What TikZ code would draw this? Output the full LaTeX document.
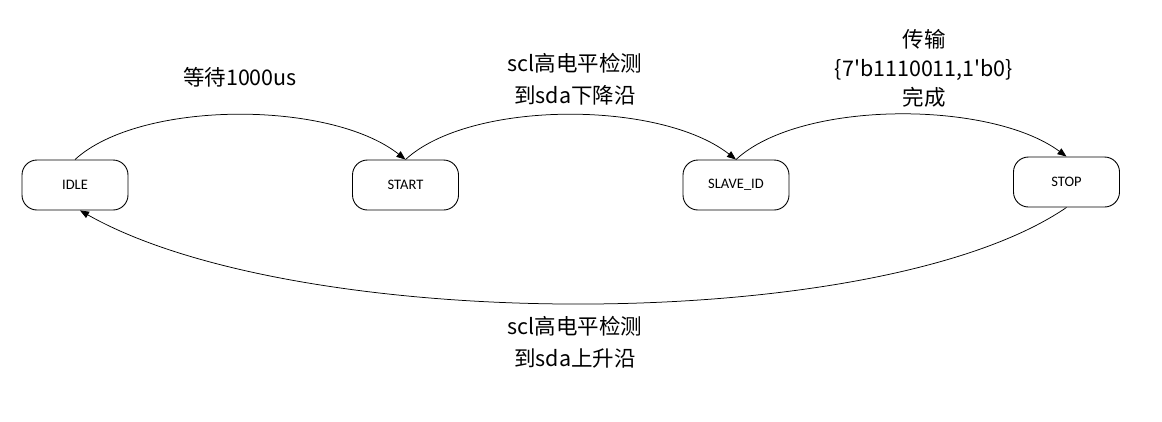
\documentclass[tikz,border=0pt]{standalone}
\usepackage{fontspec}
\setmainfont{Carlito}
\newfontfamily\cjk{Noto Sans CJK SC}
\usetikzlibrary{arrows.meta}
\begin{document}
\begin{tikzpicture}[x=1pt,y=-1pt,
  state/.style={draw,rounded corners=15pt,minimum width=106pt,minimum height=50pt,font=\fontsize{14.5}{16}\selectfont,line width=0.9pt,inner sep=0pt},
  trans/.style={line width=0.75pt,-{Triangle[length=9pt,width=7pt]}},
  lbl/.style={font=\cjk\fontsize{21.5}{32}\selectfont,align=center}]
\useasboundingbox (0,0) rectangle (1162,421);
\node[state] (idle) at (75,185) {IDLE};
\node[state] (start) at (405.5,185) {START};
\node[state] (slave) at (736,185) {SLAVE\_ID};
\node[state] (stop) at (1066.5,182) {STOP};
\draw[trans] (idle.north) .. controls (140,100) and (330,100) .. (start.north);
\draw[trans] (start.north) .. controls (470,100) and (660,100) .. (slave.north);
\draw[trans] (slave.north) .. controls (800,100) and (990,100) .. (stop.north);
\draw[trans] (stop.south) .. controls (880,335) and (300,335) .. ([xshift=5pt]idle.south);
\node[lbl] (l1) at (240,77) {等待1000us};
\node[lbl] (l2) at (575,79) {scl高电平检测\\到sda下降沿};
\node[lbl,font=\cjk\fontsize{21.5}{29}\selectfont] (l3) at (924,68) {传输\\\{7'b1110011,1'b0\}\\完成};
\node[lbl] (l4) at (575,342) {scl高电平检测\\到sda上升沿};
\end{tikzpicture}
\end{document}
